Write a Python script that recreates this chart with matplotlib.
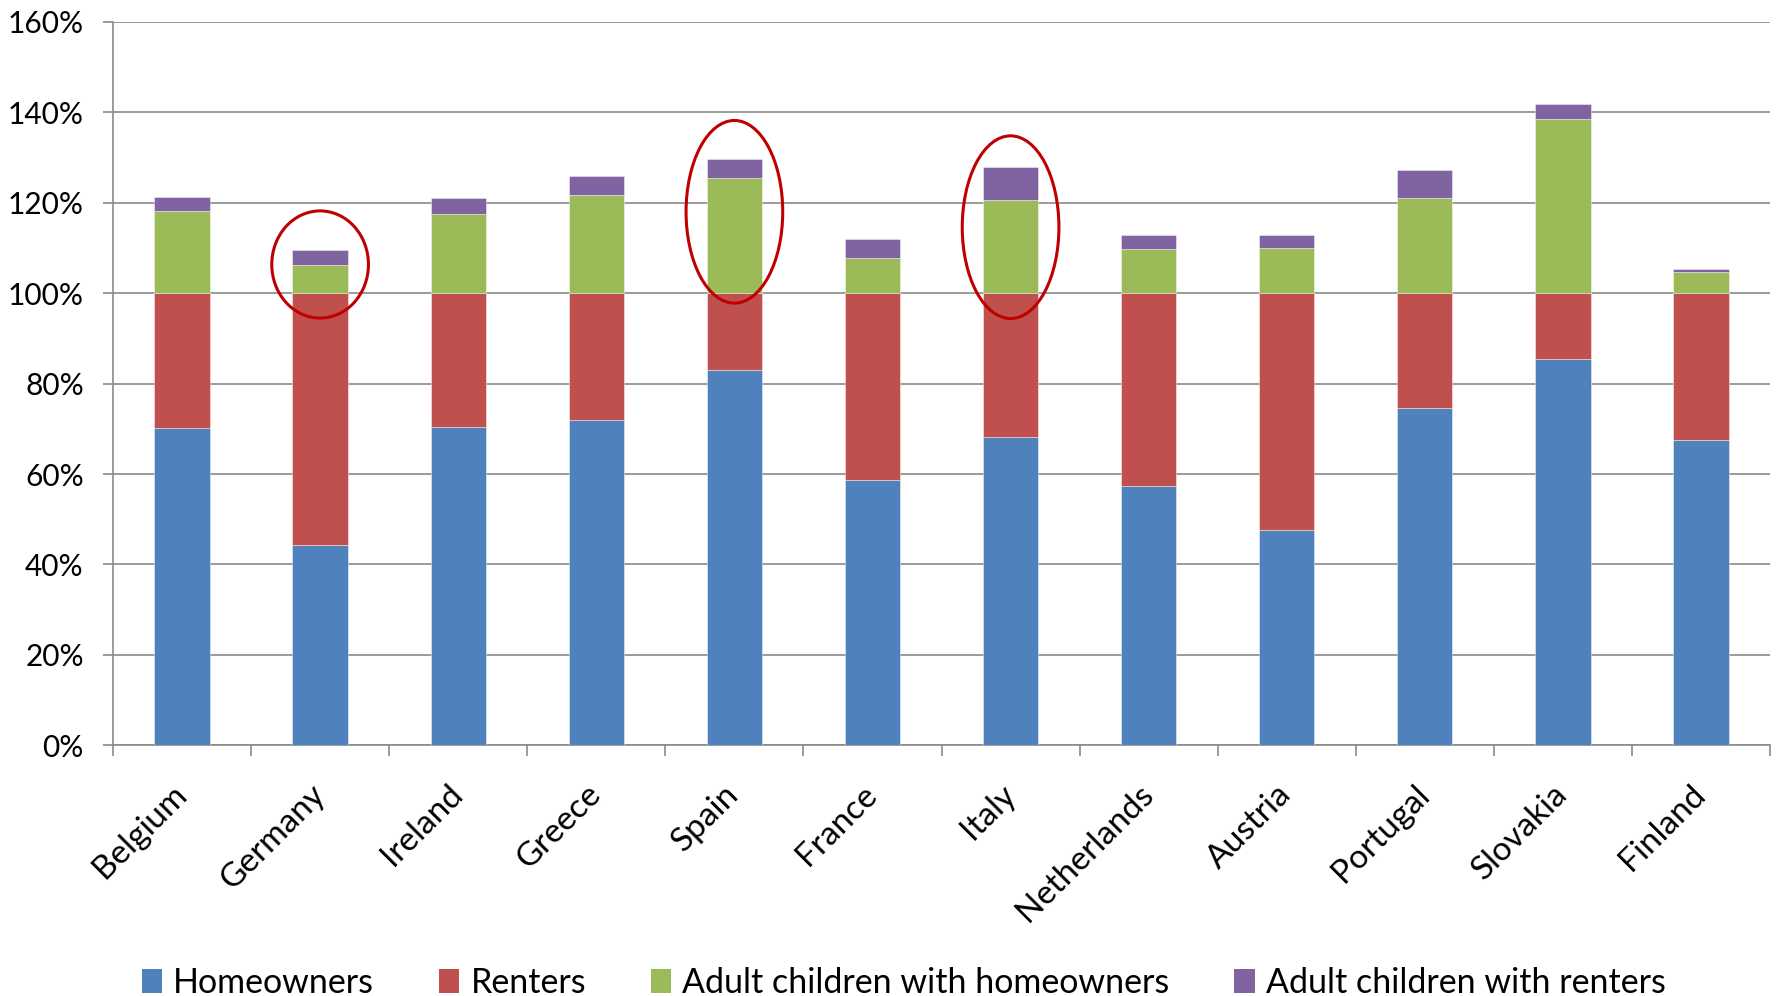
import matplotlib
matplotlib.use("Agg")
import matplotlib.pyplot as plt
from matplotlib.patches import Ellipse, Patch
from matplotlib.ticker import FixedLocator, FuncFormatter
import numpy as np

# Household composition shares by country (% of households)
countries = ["Belgium", "Germany", "Ireland", "Greece", "Spain", "France",
             "Italy", "Netherlands", "Austria", "Portugal", "Slovakia", "Finland"]
homeowners = [70.1, 44.2, 70.4, 71.9, 83.1, 58.6, 68.1, 57.4, 47.6, 74.7, 85.4, 67.5]
renters = [29.9, 55.8, 29.6, 28.1, 16.9, 41.4, 31.9, 42.6, 52.4, 25.3, 14.6, 32.5]
children_with_homeowners = [18.2, 6.3, 17.6, 21.7, 25.4, 7.8, 20.6, 9.7, 10.0, 21.0, 38.5, 4.6]
children_with_renters = [3.0, 3.2, 3.5, 4.3, 4.3, 4.1, 7.2, 3.2, 2.8, 6.2, 3.3, 0.7]

series_names = ["Homeowners", "Renters", "Adult children with homeowners",
                "Adult children with renters"]
series_colors = ["#4F81BD", "#C0504D", "#9BBB59", "#8064A2"]

y_ticks = [0, 20, 40, 60, 80, 100, 120, 140, 160]

# Highlighted countries: (country, lower %, upper %) of the circled span
highlights = [("Germany", 94.5, 118.2), ("Spain", 97.8, 138.2), ("Italy", 94.4, 134.8)]

plt.rcParams["font.family"] = ["Lato", "DejaVu Sans"]

fig = plt.figure(figsize=(17.79, 9.96), dpi=100)
ax = fig.add_axes([0.0635, 0.2517, 0.9315, 0.7263])

x = np.arange(len(countries))
bottom = np.zeros(len(countries))
for vals, name, color in zip(
        [homeowners, renters, children_with_homeowners, children_with_renters],
        series_names, series_colors):
    vals = np.array(vals)
    ax.bar(x, vals, width=0.4, bottom=bottom, color=color, label=name,
           edgecolor=(1, 1, 1, 0.5), linewidth=0.6, zorder=3)
    bottom = bottom + vals

# Red ellipses around highlighted bars
for country, lo, hi in highlights:
    i = countries.index(country)
    ax.add_patch(Ellipse((i, (lo + hi) / 2), width=0.7, height=hi - lo,
                         fill=False, edgecolor="#C00000", linewidth=2.2,
                         zorder=5, clip_on=False))

ax.set_xlim(-0.5, len(countries) - 0.5)
ax.set_ylim(0, 160)

ax.yaxis.set_major_locator(FixedLocator(y_ticks))
ax.yaxis.set_major_formatter(FuncFormatter(lambda v, p: f"{v:.0f}%"))
ax.grid(axis="y", color="#8a8a8a", linewidth=1.2, zorder=0)
ax.set_axisbelow(True)

ax.set_xticks(x)
ax.set_xticklabels(countries, rotation=45, ha="right", va="center",
                   rotation_mode="anchor")
ax.xaxis.set_minor_locator(FixedLocator(np.arange(-0.5, len(countries), 1.0)))
ax.tick_params(axis="x", which="major", length=0, pad=32, labelsize=24)
ax.tick_params(axis="x", which="minor", length=8, width=1.2, color="#8a8a8a")
ax.tick_params(axis="y", length=7, width=1.2, color="#8a8a8a", pad=14,
               labelsize=21.5)

for side in ["top", "right"]:
    ax.spines[side].set_visible(False)
for side in ["left", "bottom"]:
    ax.spines[side].set_color("#8a8a8a")
    ax.spines[side].set_linewidth(1.2)

handles = [Patch(facecolor=c, edgecolor="none") for c in series_colors]
fig.legend(handles, series_names, loc="lower center", ncol=4,
           bbox_to_anchor=(0.508, -0.027), frameon=False, fontsize=24.5,
           handlelength=0.6, handleheight=0.7, handletextpad=0.33,
           columnspacing=1.9, borderpad=0.2)

fig.savefig("out.png", dpi=100)
